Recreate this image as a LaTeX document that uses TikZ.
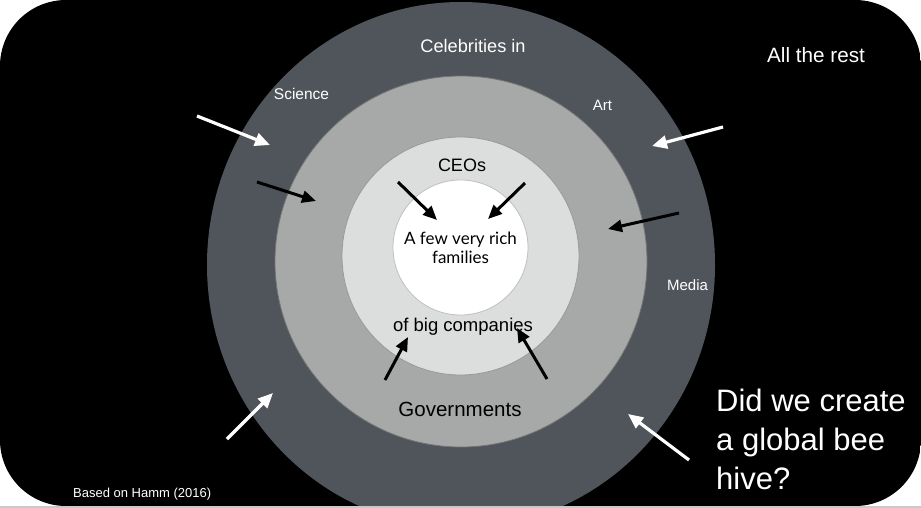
\documentclass[tikz,border=0pt]{standalone}
\usepackage{fontspec}
\setmainfont{Liberation Sans}
\newfontfamily\gillfont{Lato}
\usetikzlibrary{arrows.meta}
\definecolor{ringdark}{HTML}{50555B}
\definecolor{ringmid}{HTML}{A6A9A8}
\definecolor{ringlight}{HTML}{DCDDDD}
\definecolor{stripgray}{HTML}{C9C9C9}
\tikzset{
  lbl/.style={inner sep=0pt, anchor=base},
  wlbl/.style={lbl, text=white},
  warrow/.style={draw=white, line width=3.2pt, -{Triangle[length=15pt,width=13pt]}},
  barrow/.style={draw=black, line width=3pt, -{Triangle[length=14pt,width=12pt]}},
}
\begin{document}
\begin{tikzpicture}[x=1pt,y=-1pt]
\useasboundingbox (0,0) rectangle (921,508);
\fill[white] (0,0) rectangle (921,508);
\begin{scope}
  \clip[rounded corners=66pt] (0,0) rectangle (921,506);
  \fill[black] (0,0) rectangle (921,506);
  \fill[ringdark] (461,265) ellipse [x radius=254, y radius=263];
  \fill[ringmid, draw=black!55, line width=0.8pt] (461,261.5) ellipse [x radius=186, y radius=185.5];
  \fill[ringlight, draw=black!40, line width=0.8pt] (460.5,256) ellipse [x radius=118.5, y radius=119];
  \fill[white, draw=black!25, line width=0.8pt] (460.5,247.5) circle [radius=67.5];
\end{scope}
\fill[stripgray] (0,505.5) rectangle (921,508);

% labels
\node[wlbl, font=\fontsize{18.2}{20}\selectfont] (celeb) at (473,52.7) {Celebrities in};
\node[wlbl, font=\fontsize{20.7}{24}\selectfont] (rest) at (816,62.3) {All the rest};
\node[wlbl, font=\fontsize{15.5}{18}\selectfont] (science) at (301.5,100) {Science};
\node[wlbl, font=\fontsize{15}{18}\selectfont] (art) at (602.5,110.7) {Art};
\node[wlbl, font=\fontsize{15}{18}\selectfont] (media) at (687.5,290.7) {Media};
\node[lbl, font=\fontsize{18}{20}\selectfont] (ceos) at (462,171.7) {CEOs};
\node[lbl, font=\gillfont\fontsize{17}{19}\selectfont] (fam1) at (460.5,244) {A few very rich};
\node[lbl, font=\gillfont\fontsize{17}{19}\selectfont] (fam2) at (460.5,263) {families};
\node[lbl, font=\fontsize{18.5}{20}\selectfont] (bigco) at (463,331) {of big companies};
\node[lbl, font=\fontsize{20.5}{24}\selectfont] (gov) at (460,416) {Governments};
\node[wlbl, anchor=base west, font=\fontsize{31}{36}\selectfont] (q1) at (716,411) {Did we create};
\node[wlbl, anchor=base west, font=\fontsize{31}{36}\selectfont] (q2) at (716,450) {a global bee};
\node[wlbl, anchor=base west, font=\fontsize{31}{36}\selectfont] (q3) at (716,489) {hive?};
\node[wlbl, anchor=base west, font=\fontsize{13}{15}\selectfont] (src) at (73,497) {Based on Hamm (2016)};

% arrow end points
\coordinate (w1s) at (197,116); \coordinate (w1e) at (270,145);
\coordinate (w2s) at (723,127); \coordinate (w2e) at (652,146);
\coordinate (w3s) at (227,439); \coordinate (w3e) at (273,393);
\coordinate (w4s) at (689,460); \coordinate (w4e) at (628,414);
\coordinate (b1s) at (257,182); \coordinate (b1e) at (316,201);
\coordinate (b2s) at (679,213); \coordinate (b2e) at (608,229);
\coordinate (b3s) at (398,182); \coordinate (b3e) at (437,220);
\coordinate (b4s) at (525,183); \coordinate (b4e) at (488,219);
\coordinate (b5s) at (385,380); \coordinate (b5e) at (408,337);
\coordinate (b6s) at (547,379); \coordinate (b6e) at (517,328);

\draw[warrow] (w1s) -- (w1e);
\draw[warrow] (w2s) -- (w2e);
\draw[warrow] (w3s) -- (w3e);
\draw[warrow] (w4s) -- (w4e);
\draw[barrow] (b1s) -- (b1e);
\draw[barrow] (b2s) -- (b2e);
\draw[barrow] (b3s) -- (b3e);
\draw[barrow] (b4s) -- (b4e);
\draw[barrow] (b5s) -- (b5e);
\draw[barrow] (b6s) -- (b6e);
\end{tikzpicture}
\end{document}
